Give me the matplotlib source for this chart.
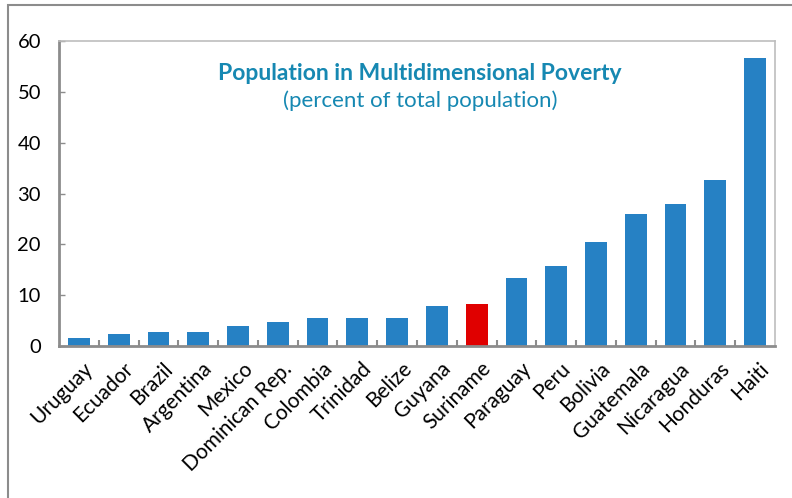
import matplotlib
matplotlib.use("Agg")
import matplotlib.pyplot as plt
from matplotlib.patches import Rectangle

countries = ["Uruguay", "Ecuador", "Brazil", "Argentina", "Mexico", "Dominican Rep.",
             "Colombia", "Trinidad", "Belize", "Guyana", "Suriname", "Paraguay", "Peru",
             "Bolivia", "Guatemala", "Nicaragua", "Honduras", "Haiti"]
values = [1.6, 2.4, 2.8, 2.8, 3.9, 4.8, 5.5, 5.5, 5.5, 7.9, 8.3, 13.3, 15.7,
          20.5, 26.0, 27.9, 32.7, 56.7]
highlight = "Suriname"
yticks = [0, 10, 20, 30, 40, 50, 60]

plt.rcParams['font.family'] = ['Lato', 'DejaVu Sans']

fig = plt.figure(figsize=(7.92, 4.98), dpi=100)
fig.patches.append(Rectangle((8/792, -0.1), 1.2, 1 - 5/498 + 0.1, transform=fig.transFigure,
                             fill=False, edgecolor="#8c8c8c", linewidth=1.5, zorder=0))
ax = fig.add_axes([59/792, 1 - 346/498, (775 - 59)/792, (346 - 41)/498])

colors = ["#e00000" if c == highlight else "#2681c4" for c in countries]
x = list(range(len(countries)))
ax.bar(x, values, width=0.55, color=colors, zorder=2)

ax.set_xlim(-0.5, len(countries) - 0.5)
ax.set_ylim(0, 60)
ax.set_yticks(yticks)
ax.set_yticklabels([str(t) for t in yticks], fontsize=14.5)
ax.tick_params(axis='y', direction='in', length=4, color="#8c8c8c", width=1, pad=13)

ax.set_xticks([i + 0.1 for i in x])
ax.set_xticklabels(countries, rotation=45, ha='right', va='top', rotation_mode='anchor', fontsize=15)
ax.tick_params(axis='x', length=0, pad=9)
ax.set_xticks([i + 0.5 for i in range(len(countries) - 1)], minor=True)
ax.tick_params(axis='x', which='minor', direction='in', length=4, color="#8c8c8c", width=1.5)

for s in ['left', 'bottom']:
    ax.spines[s].set_color("#8c8c8c")
    ax.spines[s].set_linewidth(2)
for s in ['top', 'right']:
    ax.spines[s].set_color("#bdbdbd")
    ax.spines[s].set_linewidth(1.2)

fig.text(420/792, 1 - 74/498, "Population in Multidimensional Poverty", ha='center', va='center',
         fontsize=16.5, fontweight='bold', color="#1688b2")
fig.text(420/792, 1 - 101/498, "(percent of total population)", ha='center', va='center',
         fontsize=16, color="#1688b2")

fig.savefig("out.png", dpi=100)
